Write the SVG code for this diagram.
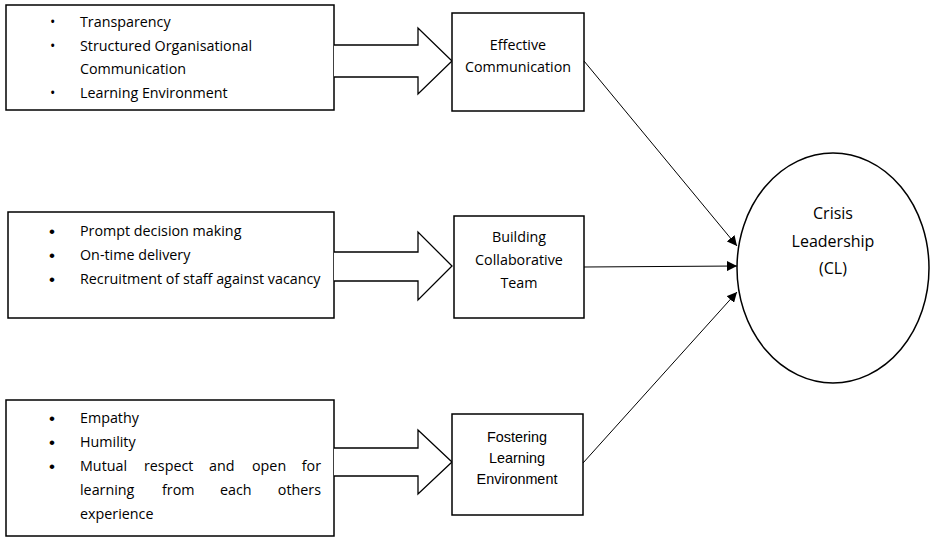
<svg xmlns="http://www.w3.org/2000/svg" width="930" height="538" viewBox="0 0 930 538">
<style>
.box{fill:#fff;stroke:#000;stroke-width:1.5}
.barrow{fill:#fff;stroke:#000;stroke-width:1.3}
.t{font-family:"Open Sans","Liberation Sans",sans-serif;font-size:14.3px;fill:#000}
.b{font-family:"Liberation Sans",Arial,sans-serif;font-size:17px;fill:#000}
.c{text-anchor:middle}
.a{font-family:"Liberation Sans",Arial,sans-serif;font-size:14.4px;fill:#000;text-anchor:middle}
.big{font-family:"Open Sans","Liberation Sans",sans-serif;font-size:16px;fill:#000;text-anchor:middle}
.conn{stroke:#000;stroke-width:1;fill:none}
</style>
<defs>
<marker id="ah" viewBox="0 0 10 10" refX="10" refY="5" markerWidth="10" markerHeight="10" markerUnits="userSpaceOnUse" orient="auto">
<path d="M0,0 L10,5 L0,10 z" fill="#000"/>
</marker>
</defs>
<rect width="930" height="538" fill="#fff"/>

<g id="factors1">
<rect class="box" x="6" y="5" width="328" height="105"/>
<text class="t" x="50" y="27">•</text><text class="t" x="80" y="27">Transparency</text>
<text class="t" x="50" y="51">•</text><text class="t" x="80" y="51">Structured Organisational</text>
<text class="t" x="80" y="74">Communication</text>
<text class="t" x="50" y="98">•</text><text class="t" x="80" y="98">Learning Environment</text>
</g>
<g id="blockarrow1">
<path class="barrow" d="M334,45 L418,45 L418,28 L452,61 L418,94 L418,77 L334,77"/>
</g>
<g id="effective-communication">
<rect class="box" x="452" y="13" width="132" height="98"/>
<text class="t c" x="518" y="50">Effective</text>
<text class="t c" x="518" y="72">Communication</text>
</g>

<g id="factors2">
<rect class="box" x="8" y="212" width="326" height="106"/>
<text class="b" x="49" y="237">•</text><text class="t" x="80" y="236">Prompt decision making</text>
<text class="b" x="49" y="261">•</text><text class="t" x="80" y="260">On-time delivery</text>
<text class="b" x="49" y="285">•</text><text class="t" x="80" y="284">Recruitment of staff against vacancy</text>
</g>
<g id="blockarrow2">
<path class="barrow" d="M334,252 L418,252 L418,232 L452,266 L418,300 L418,281 L334,281"/>
</g>
<g id="building-collaborative-team">
<rect class="box" x="454" y="216" width="130" height="102"/>
<text class="t c" x="519" y="242">Building</text>
<text class="t c" x="519" y="265">Collaborative</text>
<text class="t c" x="519" y="288">Team</text>
</g>

<g id="factors3">
<rect class="box" x="6" y="400" width="328" height="136"/>
<text class="b" x="49" y="424">•</text><text class="t" x="80" y="423">Empathy</text>
<text class="b" x="49" y="448">•</text><text class="t" x="80" y="447">Humility</text>
<text class="b" x="49" y="472">•</text>
<text class="t" x="80" y="471">Mutual</text><text class="t" x="144" y="471">respect</text><text class="t" x="209" y="471">and</text><text class="t" x="252" y="471">open</text><text class="t" x="321" y="471" text-anchor="end">for</text>
<text class="t" x="80" y="495">learning</text><text class="t" x="162" y="495">from</text><text class="t" x="220" y="495">each</text><text class="t" x="321" y="495" text-anchor="end">others</text>
<text class="t" x="80" y="519">experience</text>
</g>
<g id="blockarrow3">
<path class="barrow" d="M334,448 L418,448 L418,430 L452,462 L418,494 L418,476 L334,476"/>
</g>
<g id="fostering-learning-environment">
<rect class="box" x="452" y="414" width="131" height="101"/>
<text class="a" x="517" y="442">Fostering</text>
<text class="a" x="517" y="463">Learning</text>
<text class="a" x="517" y="484">Environment</text>
</g>

<g id="crisis-leadership">
<ellipse class="box" cx="833" cy="268" rx="96" ry="115"/>
<text class="big" x="833" y="219">Crisis</text>
<text class="big" x="833" y="247">Leadership</text>
<text class="big" x="833" y="274">(CL)</text>
</g>

<g id="connectors">
<line class="conn" x1="584" y1="61" x2="737" y2="246" marker-end="url(#ah)"/>
<line class="conn" x1="584" y1="267" x2="737" y2="266" marker-end="url(#ah)"/>
<line class="conn" x1="583" y1="463" x2="737" y2="292" marker-end="url(#ah)"/>
</g>
</svg>
